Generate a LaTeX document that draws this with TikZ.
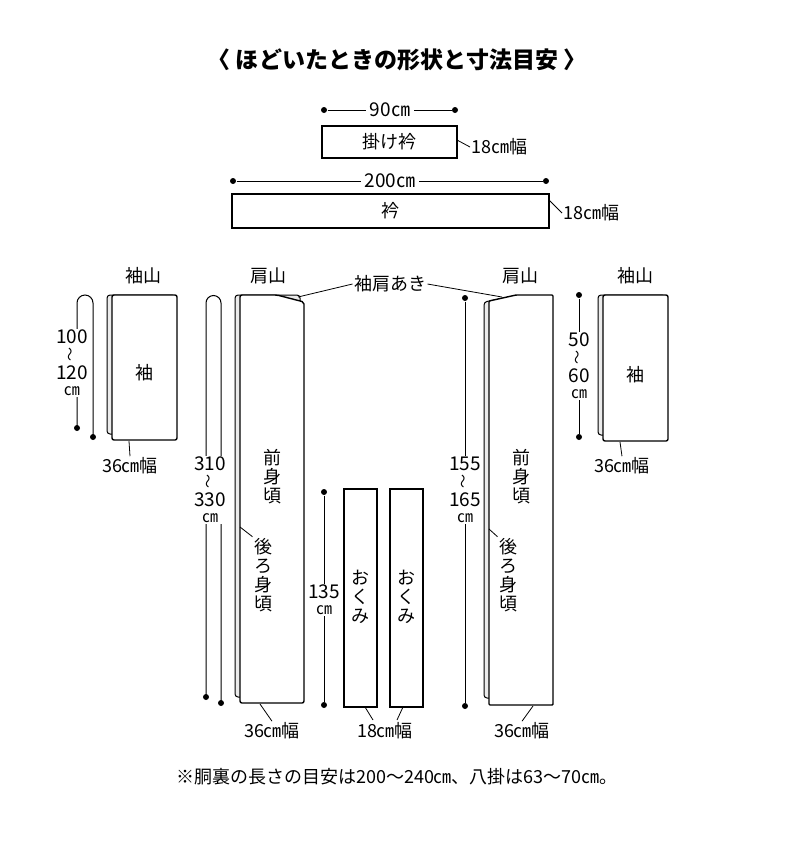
\documentclass[tikz,border=0pt]{standalone}
\usepackage{fontspec}
\setmainfont{Noto Sans CJK JP}
\usetikzlibrary{positioning}
\tikzset{
  piece/.style={draw,line width=1.4pt,fill=white},
  backpiece/.style={draw,line width=1pt,fill=black!8,rounded corners=3pt},
  lbl/.style={font=\fontsize{18}{19}\selectfont,inner sep=1pt},
  vlbl/.style={lbl,align=center,font=\fontsize{18}{19}\selectfont},
  dim/.style={lbl,align=center,fill=white,font=\fontsize{19}{17}\selectfont},
  lead/.style={draw,line width=0.8pt},
  dot/.style={circle,fill,inner sep=0pt,minimum size=6pt}
}
\newcommand{\wav}{\rotatebox{90}{\fontsize{14}{14}\selectfont〜}}
\begin{document}
\begin{tikzpicture}[x=1pt,y=-1pt,line width=1pt]
\useasboundingbox (0,0) rectangle (800,863);
% title
\node[font=\fontsize{23}{25}\selectfont\bfseries] (title) at (397,60) {〈 ほどいたときの形状と寸法目安 〉};
% kakeeri
\node[dot] (k1) at (324,110) {};
\node[dot] (k2) at (455,110) {};
\draw (k1) -- (k2);
\node[dim] (k90) at (390,110) {\,90㎝\,};
\draw[piece] (322,126) rectangle (457,158);
\node[lbl] (kake) at (389,142) {掛け衿};
\coordinate (kl) at (457,140);
\node[lbl,anchor=west] (kw) at (470,147) {18㎝幅};
\draw[lead] (kl) -- (kw.west);
% eri
\node[dot] (e1) at (233,181) {};
\node[dot] (e2) at (546,181) {};
\draw (e1) -- (e2);
\node[dim] (e200) at (390,181) {\,200㎝\,};
\draw[piece] (232,194) rectangle (549,228);
\node[lbl] (eri) at (390,211) {衿};
\coordinate (el) at (549,200);
\node[lbl,anchor=west] (ew) at (562,213) {18㎝幅};
\draw[lead] (el) -- (ew.west);
% left sleeve
\node[lbl] (lsy) at (143,276) {袖山};
\draw (77,428) -- (77,303) arc (180:360:8) -- (93,437);
\node[dot] (ls1) at (77,428) {};
\node[dot] (ls2) at (93,437) {};
\node[dim] (lsd) at (72,363) {100\\[1pt]\wav\\[1pt]120\\[-1pt]{\fontsize{16}{16}\selectfont ㎝}};
\draw[backpiece] (107,434) -- (107,295) -- (175,295) -- (175,434) -- cycle;
\draw[piece,rounded corners=2pt] (112,440) -- (112,295) -- (177,295) -- (177,440) -- cycle;
\node[lbl] (lsl) at (144,373) {袖};
\node[lbl] (lsw) at (130,466) {36㎝幅};
\draw[lead] (129,441) -- (lsw.north);
% left body
\node[lbl] (lky) at (268,276) {肩山};
\draw (206,697) -- (206,303) arc (180:360:7.5) -- (221,703);
\node[dot] (lb1) at (206,697) {};
\node[dot] (lb2) at (221,703) {};
\node[dim] (lbd) at (210,490) {310\\[1pt]\wav\\[1pt]330\\[-1pt]{\fontsize{16}{16}\selectfont ㎝}};
\draw[backpiece] (235,697) -- (235,295) -- (300,295) -- (300,697) -- cycle;
\draw[piece,rounded corners=2pt] (240,703) -- (240,295) -- (277,295) -- (304,302) -- (304,703) -- cycle;
\node[vlbl] (lmae) at (272,477) {前\\身\\頃};
\node[vlbl] (lush) at (263,575) {後\\ろ\\身\\頃};
\draw[lead] (240,527) -- (lush.north west);
\node[lbl] (lbw) at (272,731) {36㎝幅};
\draw[lead] (260,704) -- (lbw.north);
% sode-kata-aki
\node[lbl] (ska) at (390,284) {袖肩あき};
\draw[lead] (ska.west) -- (298,297);
\draw[lead] (ska.east) -- (502,297);
% okumi
\node[dot] (o1) at (324,492) {};
\node[dot] (o2) at (324,705) {};
\draw (o1) -- (o2);
\node[dim] (od) at (324,600) {135\\[-1pt]{\fontsize{16}{16}\selectfont ㎝}};
\draw[piece] (344,489) rectangle (377,707);
\draw[piece] (390,489) rectangle (423,707);
\node[vlbl] (ok1) at (360,597) {お\\く\\み};
\node[vlbl] (ok2) at (406,597) {お\\く\\み};
\node[lbl] (ow) at (385,731) {18㎝幅};
\draw[lead] (365,707) -- (373,720);
\draw[lead] (403,707) -- (397,720);
% right body
\node[lbl] (rky) at (520,276) {肩山};
\node[dot] (rb1) at (465,298) {};
\node[dot] (rb2) at (465,706) {};
\draw (rb1) -- (rb2);
\node[dim] (rbd) at (465,490) {155\\[1pt]\wav\\[1pt]165\\[-1pt]{\fontsize{16}{16}\selectfont ㎝}};
\draw[backpiece] (484,698) -- (484,302) -- (510,297) -- (550,297) -- (550,698) -- cycle;
\draw[piece,rounded corners=1pt] (489,705) -- (489,301) -- (516,295) -- (553,295) -- (553,705) -- cycle;
\node[vlbl] (rmae) at (521,477) {前\\身\\頃};
\node[vlbl] (rush) at (508,575) {後\\ろ\\身\\頃};
\draw[lead] (489,529) -- (rush.north west);
\node[lbl] (rbw) at (522,731) {36㎝幅};
\draw[lead] (533,706) -- (rbw.north);
% right sleeve
\node[lbl] (rsy) at (635,276) {袖山};
\node[dot] (rs1) at (579,295) {};
\node[dot] (rs2) at (579,437) {};
\draw (rs1) -- (rs2);
\node[dim] (rsd) at (579,366) {50\\[1pt]\wav\\[1pt]60\\[-1pt]{\fontsize{16}{16}\selectfont ㎝}};
\draw[backpiece] (598,435) -- (598,295) -- (665,295) -- (665,435) -- cycle;
\draw[piece,rounded corners=2pt] (603,441) -- (603,295) -- (668,295) -- (668,441) -- cycle;
\node[lbl] (rsl) at (635,375) {袖};
\node[lbl] (rsw) at (622,466) {36㎝幅};
\draw[lead] (620,442) -- (rsw.north);
% footnote
\node[lbl] (note) at (397,777) {※胴裏の長さの目安は200〜240㎝、八掛は63〜70㎝。};
\end{tikzpicture}
\end{document}
